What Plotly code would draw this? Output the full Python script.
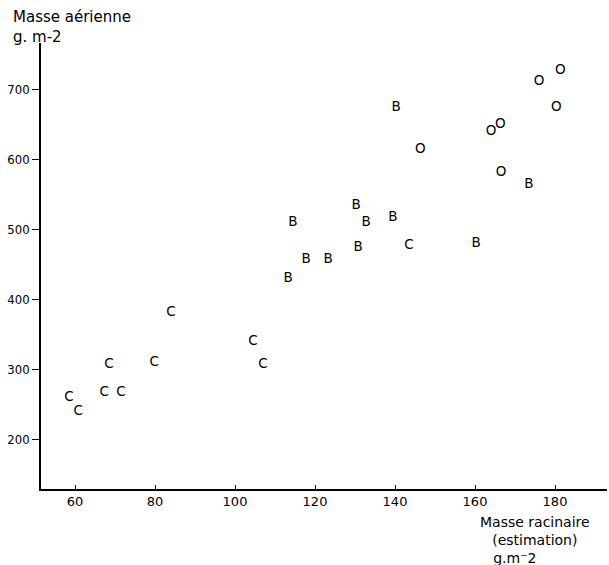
import plotly.graph_objects as go

# Data (root mass x, aerial mass y), grouped by letter
c_x = [58.5, 60.8, 67.3, 71.5, 68.5, 79.8, 84.0, 104.5, 107.0, 143.5]
c_y = [260, 239, 267, 267, 307, 309, 381, 339, 306, 477]
b_x = [113.3, 114.5, 117.8, 123.3, 130.8, 130.3, 132.8, 139.5, 140.3, 160.3, 173.5]
b_y = [430, 509, 457, 456, 474, 534, 509, 516, 673, 480, 564]
o_x = [146.3, 164.0, 166.3, 166.5, 176.0, 181.3, 180.3]
o_y = [613, 639, 650, 581, 711, 726, 674]

x_ticks = [60, 80, 100, 120, 140, 160, 180]
y_ticks = [200, 300, 400, 500, 600, 700]

FONT = "DejaVu Sans"
NARROW = "Liberation Sans Narrow, DejaVu Sans Condensed, DejaVu Sans"
fig = go.Figure()
for xs, ys, lab in [(c_x, c_y, "C"), (b_x, b_y, "B"), (o_x, o_y, "O")]:
    fig.add_trace(go.Scatter(
        x=xs, y=ys, mode="text", text=[lab] * len(xs),
        textposition="middle center",
        textfont=dict(family=FONT, size=13.5, color="black"),
        showlegend=False, hoverinfo="x+y"))

L, R, T, B = 41, 2, 43, 76
W, H = 609, 565
pw, ph = W - L - R, H - T - B

def px(xp):
    return (xp - L) / pw

def py(yp):
    return (H - B - yp) / ph

NB = "\u00a0"
fig.update_layout(
    width=W, height=H,
    margin=dict(l=L, r=R, t=T, b=B, autoexpand=False),
    paper_bgcolor="white", plot_bgcolor="white",
    font=dict(family=FONT, color="black"),
    xaxis=dict(range=[51.5, 193], showgrid=False, zeroline=False,
               automargin=False,
               showline=True, linecolor="black", linewidth=1.6,
               tickmode="array", tickvals=x_ticks,
               ticks="inside", ticklen=4, tickcolor="black",
               tickfont=dict(family=FONT, size=13, color="black")),
    yaxis=dict(range=[129, 766], showgrid=False, zeroline=False,
               automargin=False,
               showline=True, linecolor="black", linewidth=1.6,
               tickmode="array", tickvals=y_ticks,
               ticks="outside", ticklen=7, tickcolor="black",
               tickfont=dict(family=NARROW, size=13, color="black")),
    annotations=[
        dict(text="Masse aérienne<br>g. m-2", xref="paper", yref="paper",
             x=px(12), y=py(7), xanchor="left", yanchor="top", align="left",
             showarrow=False, borderpad=0, font=dict(family=FONT, size=15)),
        dict(text="Masse racinaire<br>(estimation)<br>g.m⁻2" + NB * 9,
             xref="paper", yref="paper",
             x=px(534.5), y=py(567), xanchor="center", yanchor="bottom",
             align="center", borderpad=0,
             showarrow=False, font=dict(family=FONT, size=14)),
    ],
)

fig.write_html("out.html", config={"displayModeBar": False},
               post_script="document.body.style.margin='0';document.body.style.overflow='hidden';")
